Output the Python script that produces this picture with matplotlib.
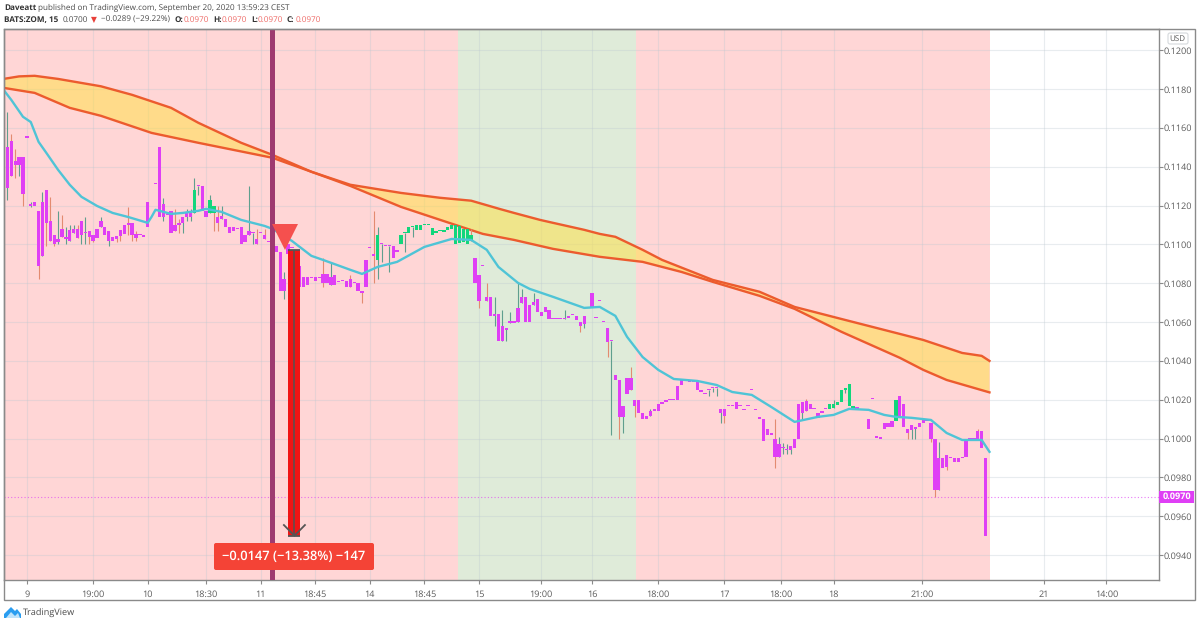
import numpy as np
import matplotlib
matplotlib.use("Agg")
import matplotlib.pyplot as plt
from matplotlib.patches import Rectangle, FancyBboxPatch, Polygon
from matplotlib.transforms import IdentityTransform

plt.rcParams['font.family'] = ['Open Sans', 'DejaVu Sans']
plt.rcParams['text.hinting'] = 'no_hinting'

# prices below are in units of 0.0001, one entry per 15 min bar
skipped_bars = [38, 150, 220, 221]
bar_n = [n for n in range(253) if n not in skipped_bars]

bar_open = [
    1180, 1129, 1153, 1143, 1141, 1145, 1155, 1120, 1122, 1117,
    1094, 1128, 1112, 1105, 1101, 1108, 1103, 1102, 1106, 1108,
    1105, 1106, 1107, 1105, 1103.5, 1109, 1109, 1102, 1104, 1104.5,
    1107.5, 1110, 1111, 1111, 1105.5, 1105, 1104, 1122, 1131,
    1150, 1114, 1115, 1117, 1110, 1111, 1111, 1114, 1114, 1116,
    1130, 1130, 1117, 1116, 1120, 1114, 1113, 1113, 1109, 1109,
    1108, 1109, 1105, 1105, 1106, 1103, 1106, 1105, 1101, 1103,
    1099, 1096, 1076, 1100, 1098, 1096, 1089, 1083, 1083, 1082.5,
    1083, 1082.5, 1085, 1085, 1079, 1084, 1080.5, 1081, 1081, 1082,
    1080, 1080, 1076, 1078, 1098, 1095, 1092, 1100, 1099, 1099,
    1099, 1097, 1100, 1106, 1106, 1109, 1107.5, 1107.5, 1110, 1110,
    1105, 1106, 1107, 1106.5, 1107.5, 1108, 1100, 1100.5, 1101, 1100,
    1105, 1093, 1084, 1089, 1073, 1073, 1063, 1064, 1050.5, 1056,
    1059.7, 1059.7, 1060, 1070, 1073, 1069, 1069, 1072, 1065, 1068,
    1066, 1061.5, 1061.5, 1061.5, 1061.5, 1063, 1063.7, 1063, 1060, 1059,
    1075, 1062, 1071, 1060, 1057, 1050, 1033, 1030, 1011,
    1031, 1031, 1020, 1020, 1013, 1011.6, 1011.6, 1014, 1014, 1018,
    1019, 1020, 1020, 1020, 1027.6, 1030, 1030, 1030, 1030, 1025,
    1023.6, 1025, 1026, 1026, 1013, 1015, 1016.8, 1016.8, 1019, 1016.8,
    1014.7, 1016.8, 1025, 1014.7, 1011, 1010, 1005, 1003, 1000, 990.4,
    995, 994, 994, 995, 1018, 1013, 1019.6, 1018, 1015.6, 1013,
    1013, 1015, 1015, 1016, 1017.4, 1019, 1025, 1017, 1016, 1015.5,
    1010, 1020.3, 1001.6, 1000, 1008, 1008, 1009, 1009,
    1022, 1018, 1004.8, 1004.4, 1004.8, 1005.8, 1008, 1009, 1008, 1000,
    973.5, 990, 991.5, 990.7, 989.8, 989.8, 990, 990.7, 1000, 999.6,
    1004, 1004, 990,
]
bar_close = [
    1134, 1150, 1135, 1141, 1145, 1126, 1155, 1120, 1120, 1089,
    1122, 1111, 1102, 1100, 1103, 1104, 1103, 1107.5, 1108, 1103.5,
    1112, 1106, 1104, 1102, 1108, 1112, 1105, 1107, 1102, 1103,
    1104.5, 1105.5, 1110, 1105, 1103.5, 1105, 1104, 1109, 1131,
    1114, 1121, 1115, 1106, 1107, 1110, 1114, 1116, 1116, 1128,
    1130, 1117, 1114, 1123, 1116, 1111, 1114.5, 1109, 1106, 1107,
    1108, 1100, 1101, 1107, 1106, 1100, 1106, 1103, 1101, 1090,
    1096, 1076, 1082, 1095, 1098, 1090, 1078, 1078, 1079, 1082.5,
    1081, 1082.5, 1080, 1080, 1083, 1079, 1080.5, 1081, 1078, 1078,
    1080, 1076, 1075, 1092, 1098, 1094, 1105, 1100, 1099, 1099,
    1093, 1096, 1105, 1106, 1109, 1109, 1110, 1110, 1110, 1110,
    1108.5, 1107, 1107, 1107.5, 1109, 1110, 1110, 1109.5, 1108, 1108,
    1102, 1080, 1071, 1089, 1071, 1063, 1064, 1050.5, 1058, 1057,
    1059.7, 1059.7, 1067, 1073, 1060, 1060, 1070.5, 1065, 1063, 1065,
    1061.5, 1061.5, 1061.5, 1061.5, 1061.5, 1062, 1063.7, 1061, 1058, 1063,
    1067, 1062, 1071, 1060, 1049.6, 1050, 1030, 1011, 1017,
    1023, 1025, 1017, 1013, 1010, 1010, 1014, 1015, 1018, 1019,
    1020, 1020, 1020, 1027, 1030, 1030, 1029, 1029, 1025, 1024,
    1023, 1025, 1026, 1026, 1015, 1011.6, 1016.8, 1016.8, 1015, 1016.8,
    1014.7, 1016.8, 1025, 1014.7, 1010, 999, 1002, 1002, 990.4, 997,
    995, 994, 996, 1000, 1000, 1018.6, 1014, 1015, 1015, 1010.5,
    1014, 1015, 1018, 1018, 1019, 1025, 1026, 1028, 1016, 1015.5,
    1005, 1020.3, 1000.5, 1000, 1004.8, 1005.8, 1005.8, 1020,
    1010.8, 1005.8, 1002.7, 1007, 1005.8, 1008, 1009.6, 1010, 1000, 973.5,
    990, 984.7, 985.5, 990, 987.8, 987.8, 990.7, 1000, 999.5, 999.6,
    999.3, 995, 950,
]

high_n = [1, 2, 3, 7, 10, 12, 14, 15, 16, 17, 18, 19, 21, 25, 32, 34, 41, 44, 45, 47, 48,
          49, 53, 55, 56, 63, 65, 67, 72, 82, 84, 89, 95, 96, 120, 124, 126, 128, 130, 132,
          133, 136, 144, 161, 166, 198, 199, 200, 201, 206, 213, 240, 250]
high_v = [1168, 1157, 1149, 1122, 1127, 1124.5, 1117, 1115, 1109, 1110, 1110, 1110, 1114, 1114,
          1119.5, 1107, 1124, 1118, 1113, 1118, 1118, 1134, 1125.5, 1120, 1120, 1130, 1108, 1108,
          1086, 1093, 1091, 1084, 1117, 1109, 1108, 1080, 1073, 1066, 1065, 1080, 1077, 1075,
          1066, 1037, 1015, 1010, 1001, 997.5, 997, 1020.4, 1020, 998, 1005]
low_n = [1, 3, 4, 5, 7, 9, 11, 13, 14, 16, 20, 21, 22, 23, 27, 29, 30, 32, 33, 34, 41, 45, 46,
         47, 48, 50, 54, 55, 64, 72, 82, 92, 95, 96, 97, 99, 103, 105, 122, 126, 129,
         148, 149, 155, 156, 158, 159, 162, 181, 182, 183, 184, 185, 198, 200, 201, 202,
         205, 216, 232, 233, 234, 238, 239, 242]
low_v = [1123, 1134, 1135, 1120, 1119, 1082, 1099, 1099, 1100, 1100, 1100, 1100, 1100, 1101,
         1099, 1101, 1102, 1105, 1102, 1102, 1112, 1106, 1106, 1112, 1112, 1125.5, 1107, 1107,
         1100, 1072, 1078, 1070, 1080, 1082, 1091, 1086, 1096, 1104, 1067, 1058, 1050,
         1055, 1057, 1042, 1002, 1000, 1003, 1011, 1022, 1024, 1022, 1008, 1008, 985, 992, 992, 992,
         1010, 1023.5, 1000, 1000, 1000, 998, 970, 984]

# bars that TradingView painted green, the rest are magenta
green_bars = [49, 53, 54, 96, 102, 103, 104, 105, 106, 107, 108, 109, 110, 111, 112, 113, 114, 115,
              116, 117, 118, 119, 120, 212, 213, 214, 215, 216, 217, 218, 229]

# moving averages
upper_n = [0, 4, 8, 14, 25, 33, 43, 50, 61, 69, 79, 89, 102, 112, 120, 127.4, 131, 137.7, 141, 149,
           153, 157, 164, 169, 182, 194, 203, 215, 230, 236, 246, 251, 253]
upper_v = [1185.2, 1186.5, 1186.8, 1185.2, 1181.4, 1177, 1170.3, 1162.6, 1152.3, 1146.1, 1137.4,
           1130.7, 1126.5, 1124, 1122.5, 1118.2, 1116.2, 1112.6, 1111.1, 1107.5, 1105.4, 1103.9,
           1097.2, 1092, 1081.7, 1075.6, 1067.8, 1061.6, 1053.9, 1050.8, 1044.1, 1042.6, 1040]
lower_n = [0, 8, 17, 25, 38, 50, 69, 79, 89, 102, 116, 123, 131, 141, 153, 164, 174, 182, 194,
           203, 215, 230, 236, 242, 253]
lower_v = [1180.6, 1178, 1170.3, 1166.2, 1157.4, 1152.3, 1144.6, 1137.4, 1130.1, 1119.3, 1110,
           1105.4, 1102.3, 1097.7, 1093.6, 1091, 1085.8, 1080.7, 1073.5, 1066.8, 1055, 1041.6,
           1035.4, 1030.2, 1023.8]
fast_n = [0, 2, 5, 7, 9, 11, 14, 17, 20, 24, 28, 32, 37, 38, 39, 40, 43, 46, 50, 52, 56, 61, 67,
          69, 74, 79, 82, 89, 92, 96, 101, 108, 115, 120, 124, 127, 132, 135, 141, 149, 153, 157,
          160, 164, 168, 172, 178, 183, 187, 192, 197, 203, 209, 213, 217, 222, 226, 229, 233,
          238, 242, 246, 251, 253]
fast_v = [1179.6, 1174.4, 1165.7, 1163, 1152.8, 1147.1, 1138.4, 1130.7, 1124.5, 1119.8, 1116.2,
          1114.1, 1111.1, 1114.2, 1117.8, 1117.3, 1115.7, 1116.2, 1117.3, 1118.3, 1116.7, 1112.6,
          1109.5, 1108, 1101.8, 1094.1, 1092, 1086.9, 1084.8, 1088.4, 1091, 1098.7, 1102.8,
          1102.3, 1097.2, 1088.4, 1080.2, 1077.1, 1073, 1067.3, 1067.8, 1063.2, 1052.4, 1042,
          1035.4, 1030.7, 1029.7, 1027.6, 1024, 1022.5, 1016.3, 1008.6, 1011.2, 1012.2, 1015.3,
          1014.8, 1012.2, 1011.2, 1010.7, 1009.6, 1002.9, 999.3, 999.3, 993.2]

# background bands (bar numbers)
red_bands = [(-1, 116.6), (162.3, 253.2)]
green_band = (116.6, 162.3)

price_ticks = [0.0940, 0.0960, 0.0980, 0.1000, 0.1020, 0.1040, 0.1060, 0.1080, 0.1100, 0.1120,
               0.1140, 0.1160, 0.1180, 0.1200]
time_ticks = [6, 23, 37, 52, 66, 80, 94, 108, 122, 138, 151, 168, 185, 199.5, 213, 235.7, 267, 283]
time_labels = ['9', '19:00', '10', '18:30', '11', '18:45', '14', '18:45', '15', '19:00', '16',
               '18:00', '17', '18:00', '18', '21:00', '21', '14:00']

signal_bar = 69
triangle_bar = 72.2
triangle_price = 0.11036
measure_left, measure_right = 73.1, 76.2
measure_top, measure_bottom = 0.1097, 0.0950
last_price = 0.0970

W, H = 1200, 625
MAGENTA = '#DF3FF5'
GREEN = '#12D67C'

fig = plt.figure(figsize=(12, 6.25), dpi=100, facecolor='white')
ax = fig.add_axes([4 / W, 1 - 580 / H, 1155 / W, 551 / H])
ax.set_xlim(0.13, 296.5)
ax.set_ylim(0.09272, 0.12109)
ax.set_facecolor('white')


def fx(x):
    return x / W


def fy(y):
    return 1 - y / H


for a, b in red_bands:
    ax.axvspan(a, b, color='#FFD6D6', lw=0, zorder=0)
ax.axvspan(green_band[0], green_band[1], color='#DFEBD9', lw=0, zorder=0)

for p in price_ticks:
    ax.axhline(p, color='#BCC8D0', lw=0.8, alpha=0.33, zorder=1)
for t in time_ticks:
    ax.axvline(t, color='#BCC8D0', lw=0.8, alpha=0.33, zorder=1)

# cloud between the two slow averages
cloud_x = list(upper_n) + lower_n[::-1]
cloud_y = (np.array(list(upper_v) + lower_v[::-1])) / 1e4
ax.fill(cloud_x, cloud_y, color='#FFE03F', alpha=0.5, lw=0, zorder=2)
ax.plot(upper_n, np.array(upper_v) / 1e4, color='#EC5B2E', lw=1.7, zorder=3, solid_joinstyle='round')
ax.plot(lower_n, np.array(lower_v) / 1e4, color='#EC5B2E', lw=1.7, zorder=3, solid_joinstyle='round')

# candles
opens = np.array(bar_open) / 1e4
closes = np.array(bar_close) / 1e4
highs = dict(zip(high_n, np.array(high_v) / 1e4))
lows = dict(zip(low_n, np.array(low_v) / 1e4))
for n, o, c in zip(bar_n, opens, closes):
    top = max(o, c)
    bot = min(o, c)
    wick_col = '#5F9F8E' if c >= o else '#E38B70'
    if n in highs or n in lows:
        ax.vlines(n, lows.get(n, bot), highs.get(n, top), color=wick_col, lw=0.8, zorder=4)
    body_col = GREEN if n in green_bars else MAGENTA
    ax.bar(n, max(top - bot, 0.00006), bottom=bot, width=0.85, color=body_col, lw=0, zorder=5)

ax.plot(fast_n, np.array(fast_v) / 1e4, color='#4FC4D6', lw=1.7, zorder=6, solid_joinstyle='round')

# last price line
ax.axhline(last_price, color=MAGENTA, lw=0.8, ls=(0, (1, 2)), alpha=0.7, zorder=4)

# signal marks
ax.axvline(signal_bar, color='#9E3A70', lw=3.6, zorder=7)
ax.plot([triangle_bar], [triangle_price], marker='v', ms=19, color='#F5504E', mew=0, zorder=8)

ax.add_patch(Rectangle((measure_left, measure_bottom), measure_right - measure_left,
                       measure_top - measure_bottom, color='#F01414', lw=0, zorder=8))
mid = (measure_left + measure_right) / 2
ax.vlines(mid, measure_bottom, measure_top, color='#6A4A4A', lw=1.3, zorder=9)
ax.hlines([measure_top, measure_bottom], measure_left, measure_right, color='#555555', lw=1.3, zorder=9)
ax.plot([mid - 2.7, mid, mid + 2.7], [measure_bottom + 0.00055, measure_bottom, measure_bottom + 0.00055],
        color='#555555', lw=1.3, zorder=9)

# axes and ticks
ax.yaxis.tick_right()
ax.set_yticks(price_ticks)
ax.set_yticklabels(['%.4f' % p for p in price_ticks])
ax.set_xticks(time_ticks)
ax.set_xticklabels(time_labels)
ax.tick_params(axis='y', length=3, width=0.8, color='#8A8A8A', labelcolor='#5A5A5A', labelsize=6.6, pad=0.5)
ax.tick_params(axis='x', length=3, width=0.8, color='#8A8A8A', labelcolor='#5A5A5A', labelsize=6.6, pad=4)
for s in ax.spines.values():
    s.set_color('#8A8A8A')
    s.set_linewidth(1.0)

fig.add_artist(Rectangle((fx(4), fy(600)), 1191 / W, 571 / H, transform=fig.transFigure,
                         fill=False, ec='#8A8A8A', lw=1.0))

# P&L label of the measure tool
fig.add_artist(FancyBboxPatch((214, H - 570), 160, 27, boxstyle='round,pad=0,rounding_size=2',
                              transform=IdentityTransform(), fc='#F44336', ec='none', zorder=10))
fig.text(fx(294), fy(557), '\u22120.0147 (\u221213.38%) \u2212147', color='white', fontsize=9.3,
         fontweight='semibold', ha='center', va='center', zorder=11)

# last price tag and currency box
fig.add_artist(Rectangle((1159, H - 503), 35, 12, transform=IdentityTransform(), fc=MAGENTA, ec='none', zorder=10))
fig.text(fx(1177), fy(497), '0.0970', color='white', fontsize=6.6, fontweight='bold',
         ha='center', va='center', zorder=11)
fig.add_artist(FancyBboxPatch((1168, H - 44), 20, 11, boxstyle='round,pad=0,rounding_size=2',
                              transform=IdentityTransform(), fc='white', ec='#D5D9DC', lw=0.8, zorder=10))
fig.text(fx(1177.5), fy(38.5), 'USD', color='#5A5A5A', fontsize=5.8, ha='center', va='center', zorder=11)

# header
GREY = '#4A4A4A'
RED = '#EE6A66'
HEAD = 5.9
fig.text(fx(4), fy(8), 'Daveatt', fontsize=HEAD, fontweight='bold', color='#333333', va='center')
fig.text(fx(37.5), fy(8), 'published on TradingView.com, September 20, 2020 13:59:23 CEST', fontsize=HEAD,
         color=GREY, va='center')
fig.text(fx(4), fy(20), 'BATS:ZOM, 15', fontsize=HEAD, fontweight='bold', color='#333333', va='center')
fig.text(fx(63), fy(20), '0.0700', fontsize=HEAD, color=GREY, va='center')
fig.text(fx(91), fy(20), '\u25BC', fontsize=5.5, color='#E8403A', va='center', family='DejaVu Sans')
fig.text(fx(101), fy(20), '\u22120.0289 (\u221229.22%)', fontsize=HEAD, color=GREY, va='center')
for x_key, key, x_val in [(175, 'O:', 184), (213, 'H:', 222), (251, 'L:', 258), (287, 'C:', 296)]:
    fig.text(fx(x_key), fy(20), key, fontsize=HEAD, fontweight='bold', color='#333333', va='center')
    fig.text(fx(x_val), fy(20), '0.0970', fontsize=HEAD, color=RED, va='center')

# footer logo, two mountains and a cloud base
fig.add_artist(Polygon([(fx(4), fy(618)), (fx(4), fy(614)), (fx(11), fy(607)), (fx(15), fy(611)),
                        (fx(17), fy(609)), (fx(21), fy(614)), (fx(21), fy(618))],
                       transform=fig.transFigure, fc='#2A9DF0', ec='none'))
fig.add_artist(Polygon([(fx(6), fy(618)), (fx(11), fy(612)), (fx(15), fy(616)), (fx(18), fy(613)),
                        (fx(20), fy(618))],
                       transform=fig.transFigure, fc='#BFE3FB', ec='none'))
fig.text(fx(23), fy(613), 'TradingView', fontsize=6.6, color='#4A4A4A', va='center')

fig.savefig('out.png', dpi=100)
